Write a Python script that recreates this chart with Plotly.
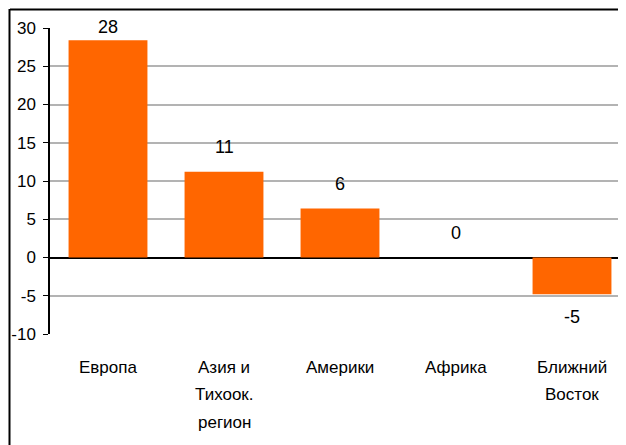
import plotly.graph_objects as go

categories = ["Европа", "Азия и\nТихоок.\nрегион", "Америки", "Африка", "Ближний\nВосток"]
values = [28.4, 11.2, 6.4, 0.0, -4.8]
value_labels = ["28", "11", "6", "0", "-5"]
y_ticks = [-10, -5, 0, 5, 10, 15, 20, 25, 30]
y_tick_labels = ["-10", "-5", "0", "5", "10", "15", "20", "25", "30"]

FONT = "Liberation Sans Narrow, Arial Narrow, Liberation Sans, Arial, sans-serif"
ORANGE = "#FF6600"

W, H = 626, 445
OFF = 8  # page body margin
ML, MR, MT = 50 - OFF, 0, 28 - OFF
plot_h = 306
MB = H - MT - plot_h
plot_w = W - ML - MR
ymin, ymax = -10, 30
px_per_unit = plot_h / (ymax - ymin)
cat_px = 116
xr = [-0.5, -0.5 + plot_w / cat_px]

fig = go.Figure()
fig.add_trace(go.Bar(
    x=list(range(len(categories))), y=values,
    marker=dict(color=ORANGE, line=dict(width=0)),
    width=0.68, hoverinfo="skip",
))

annotations = []
for i, (v, lab) in enumerate(zip(values, value_labels)):
    if v >= 0:
        top_px = (ymax - v) * px_per_unit
        shift = min(25, top_px + 1)
    else:
        shift = -23
    annotations.append(dict(x=i, y=v, xref="x", yref="y", text=lab, showarrow=False,
                            yanchor="middle", yshift=shift,
                            font=dict(family=FONT, size=18, color="#000")))

for i, c in enumerate(categories):
    for j, line in enumerate(c.split("\n")):
        annotations.append(dict(x=i, y=0, xref="x", yref="paper", text=line, showarrow=False,
                                yanchor="middle", yshift=-(33 + 27.5 * j),
                                font=dict(family=FONT, size=17, color="#000")))

def px_to_paper_x(px):
    return (px - OFF - ML) / plot_w

def px_to_paper_y(py):
    return (MT + plot_h - (py - OFF)) / plot_h

shapes = [
    dict(type="line", xref="paper", yref="paper", layer="below",
         x0=px_to_paper_x(10), x1=px_to_paper_x(640), y0=px_to_paper_y(9.5), y1=px_to_paper_y(9.5),
         line=dict(color="#000", width=2)),
    dict(type="line", xref="paper", yref="paper", layer="below",
         x0=px_to_paper_x(9.5), x1=px_to_paper_x(9.5), y0=px_to_paper_y(9), y1=px_to_paper_y(460),
         line=dict(color="#000", width=2)),
]

fig.update_layout(
    width=W, height=H,
    margin=dict(l=ML, r=MR, t=MT, b=MB, autoexpand=False),
    paper_bgcolor="white", plot_bgcolor="white",
    showlegend=False,
    annotations=annotations, shapes=shapes,
    font=dict(family=FONT, size=17, color="#000"),
    xaxis=dict(range=xr, showticklabels=False, showgrid=False, zeroline=False,
               showline=False, ticks="", fixedrange=True, automargin=False),
    yaxis=dict(range=[ymin, ymax], tickvals=y_ticks, ticktext=y_tick_labels,
               showgrid=True, gridcolor="#B3B3B3",
               gridwidth=1.5, zeroline=True, zerolinecolor="#000", zerolinewidth=1.5,
               showline=True, linecolor="#000", linewidth=1.5, ticks="outside",
               ticklen=5, tickcolor="#000", tickfont=dict(family=FONT, size=17),
               ticklabelstandoff=4, automargin=False, fixedrange=True),
)

fig.write_html("out.html")
